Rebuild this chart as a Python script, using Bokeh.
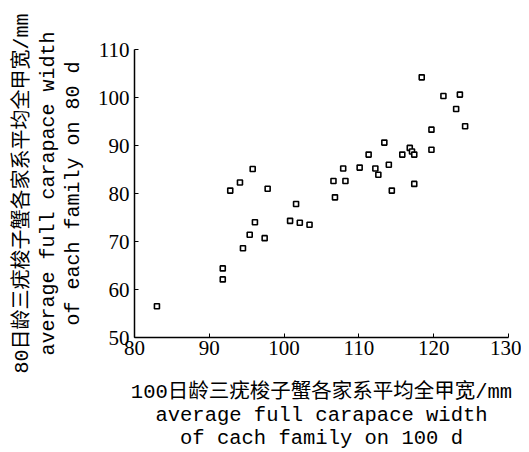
from bokeh.plotting import figure
from bokeh.models import Range1d, FixedTicker
from bokeh.embed import file_html
from bokeh.resources import INLINE

# data
width_100d = [83.0, 91.8, 91.8, 92.8, 94.1, 95.8, 94.5, 95.4, 96.1, 97.4,
              97.8, 100.8, 101.6, 102.1, 103.4, 106.6, 106.8, 107.9, 108.2, 110.1,
              111.3, 112.2, 112.6, 113.4, 114.0, 114.4, 115.8, 116.8, 117.1, 117.4,
              117.4, 118.4, 119.7, 119.7, 121.3, 123.5, 123.0, 124.2]
width_80d = [56.5, 64.4, 62.1, 80.6, 82.3, 85.1, 68.6, 71.4, 74.0, 70.7,
             81.0, 74.3, 77.8, 73.9, 73.5, 82.6, 79.2, 85.2, 82.6, 85.4,
             88.1, 85.2, 83.9, 90.6, 86.0, 80.6, 88.1, 89.5, 88.75, 88.1,
             82.0, 104.2, 93.3, 89.1, 100.3, 100.6, 97.6, 94.0]
x_ticks = [80, 90, 100, 110, 120, 130]
y_ticks = [50, 60, 70, 80, 90, 100, 110]

x_title = ["100日龄三疣梭子蟹各家系平均全甲宽/mm",
           "average full carapace width",
           "of cach family on 100 d"]
y_title = ["80日龄三疣梭子蟹各家系平均全甲宽/mm",
           "average full carapace width",
           "of each family on 80 d"]

W, H = 521, 452
p = figure(width=W, height=H, output_backend="svg", toolbar_location=None,
           x_range=Range1d(80, 130), y_range=Range1d(50, 110),
           min_border_left=134, min_border_right=W - 508, min_border_top=49,
           min_border_bottom=H - 337)
p.background_fill_color = "white"
p.border_fill_color = "white"
p.outline_line_color = None
p.xgrid.visible = False
p.ygrid.visible = False

p.scatter(width_100d, width_80d, marker="square", size=5, fill_color="white",
          line_color="black", line_width=1.6)

serif = "Liberation Serif"
for ax, ticks in ((p.xaxis[0], x_ticks), (p.yaxis[0], y_ticks)):
    ax.ticker = FixedTicker(ticks=ticks)
    ax.minor_tick_line_color = None
    ax.major_tick_in = 4
    ax.major_tick_out = 0
    ax.axis_line_color = "black"
    ax.axis_line_width = 1.5
    ax.major_tick_line_width = 1
    ax.major_label_text_font = serif
    ax.major_label_text_font_size = "21px"
    ax.major_label_text_color = "black"
    ax.axis_label_text_font = "'Liberation Mono', 'Noto Sans CJK SC'"
    ax.axis_label_text_font_style = "normal"
    ax.axis_label_text_color = "black"
p.xaxis.axis_label_text_font_size = "20.5px"
p.yaxis.axis_label_text_font_size = "20px"
p.xaxis.axis_label_text_line_height = 1.0
p.yaxis.axis_label_text_line_height = 1.1
p.xaxis.major_label_standoff = 3
p.yaxis.major_label_standoff = 5
p.xaxis.axis_label = "\n".join(x_title)
p.yaxis.axis_label = "\n".join(y_title)
p.xaxis.axis_label_standoff = 23
p.yaxis.axis_label_standoff = 10

open("out.html", "w").write(file_html(p, INLINE))
